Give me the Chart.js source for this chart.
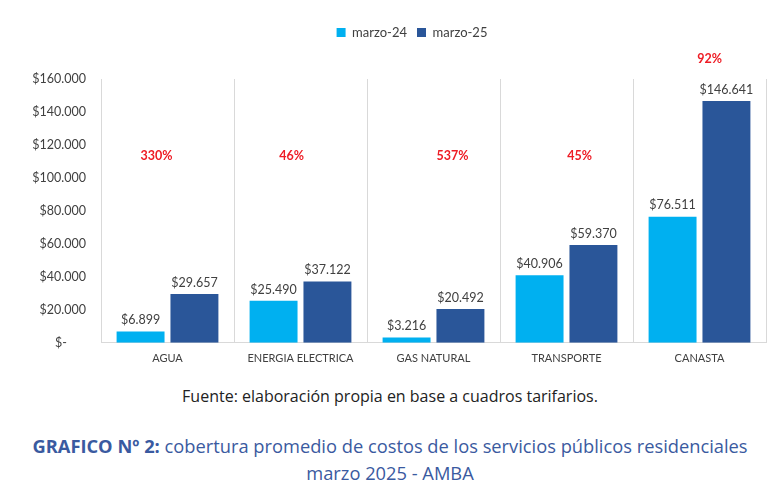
<!DOCTYPE html>
<html>
<head>
<meta charset="utf-8">
<script src="https://cdn.jsdelivr.net/npm/chart.js@4.4.1/dist/chart.umd.min.js"></script>
<style>
  html, body { margin: 0; padding: 0; background: #ffffff; }
  body { width: 780px; height: 500px; overflow: hidden; position: relative; font-family: "Open Sans", sans-serif; }
  #wrap { position: absolute; left: 0; top: 0; width: 780px; height: 374px; }
  #fuente { position: absolute; left: 0; width: 780px; top: 385px; text-align: center; font-size: 16px; color: #222222; font-family: "Open Sans", sans-serif; }
  #titulo { position: absolute; left: 0; width: 780px; top: 432px; text-align: center; font-size: 18.3px; line-height: 27px; color: #3a5aa0; font-family: "Open Sans", sans-serif; }
  #titulo b { font-weight: 700; }
</style>
</head>
<body>
<div id="wrap"><canvas id="c"></canvas></div>
<div id="fuente">Fuente: elaboración propia en base a cuadros tarifarios.</div>
<div id="titulo"><b>GRAFICO Nº 2:</b> cobertura promedio de costos de los servicios públicos residenciales<br>marzo 2025 - AMBA</div>
<script>
const categories = ["AGUA", "ENERGIA ELECTRICA", "GAS NATURAL", "TRANSPORTE", "CANASTA"];
const seriesNames = ["marzo-24", "marzo-25"];
const marzo24 = [6899, 25490, 3216, 40906, 76511];
const marzo25 = [29657, 37122, 20492, 59370, 146641];
const variaciones = ["330%", "46%", "537%", "45%", "92%"];
const yTicks = [0, 20000, 40000, 60000, 80000, 100000, 120000, 140000, 160000];

function fmt(v) {
  return "$" + v.toString().replace(/\B(?=(\d{3})+(?!\d))/g, ".");
}

const valueLabels = {
  id: 'valueLabels',
  afterDatasetsDraw(chart) {
    const ctx = chart.ctx;
    ctx.save();
    ctx.font = '12.5px Lato, "Liberation Sans", sans-serif';
    ctx.fillStyle = '#404040';
    ctx.textAlign = 'center';
    ctx.textBaseline = 'bottom';
    chart.data.datasets.forEach((ds, di) => {
      const meta = chart.getDatasetMeta(di);
      meta.data.forEach((bar, i) => {
        ctx.fillText(fmt(ds.data[i]), bar.x, bar.y - 5);
      });
    });
    // percentage annotations
    const xs = chart.scales.x, ys = chart.scales.y;
    const dx = [-11, -9, 19, 13, 10];
    const yv = [113500, 113500, 113500, 113500, 172000];
    ctx.font = 'bold 12.5px Lato, "Liberation Sans", sans-serif';
    ctx.fillStyle = '#ee1c25';
    ctx.textBaseline = 'middle';
    variaciones.forEach((t, i) => {
      ctx.fillText(t, xs.getPixelForValue(i) + dx[i], ys.getPixelForValue(yv[i]));
    });
    ctx.restore();
  }
};

const legendHeight = {
  id: 'legendHeight',
  beforeInit(chart) {
    const orig = chart.legend.fit;
    chart.legend.fit = function () {
      orig.bind(chart.legend)();
      this.height = 63;
    };
  },
  afterLayout(chart) {
    chart.legend.left += 58;
  }
};

new Chart(document.getElementById('c'), {
  type: 'bar',
  data: {
    labels: categories,
    datasets: [
      { label: seriesNames[0], data: marzo24, backgroundColor: '#00b0f0' },
      { label: seriesNames[1], data: marzo25, backgroundColor: '#2a5699' }
    ]
  },
  options: {
    responsive: true,
    maintainAspectRatio: false,
    animation: false,
    datasets: { bar: { categoryPercentage: 0.81, barPercentage: 0.89 } },
    layout: { padding: { top: 16, right: 14, left: 0, bottom: 0 } },
    plugins: {
      legend: {
        position: 'top',
        labels: {
          boxWidth: 9, boxHeight: 9, padding: 10,
          color: '#404040',
          font: { family: 'Lato, "Liberation Sans", sans-serif', size: 13 }
        }
      },
      tooltip: { enabled: false }
    },
    scales: {
      x: {
        grid: { display: true, offset: true, color: '#d9d9d9', drawTicks: false },
        border: { display: true, color: '#d9d9d9' },
        ticks: { color: '#404040', padding: 9, font: { family: 'Lato, "Liberation Sans", sans-serif', size: 11 } }
      },
      y: {
        min: 0, max: 160000,
        afterFit(scale) { scale.width = 101; },
        afterBuildTicks(scale) { scale.ticks = yTicks.map(v => ({ value: v })); },
        grid: { display: false, drawTicks: false },
        border: { display: false },
        ticks: {
          color: '#404040', padding: 15,
          font: { family: 'Lato, "Liberation Sans", sans-serif', size: 12.5 },
          callback: (v) => v === 0 ? "$-      " : fmt(v)
        }
      }
    }
  },
  plugins: [valueLabels, legendHeight]
});
</script>
</body>
</html>
